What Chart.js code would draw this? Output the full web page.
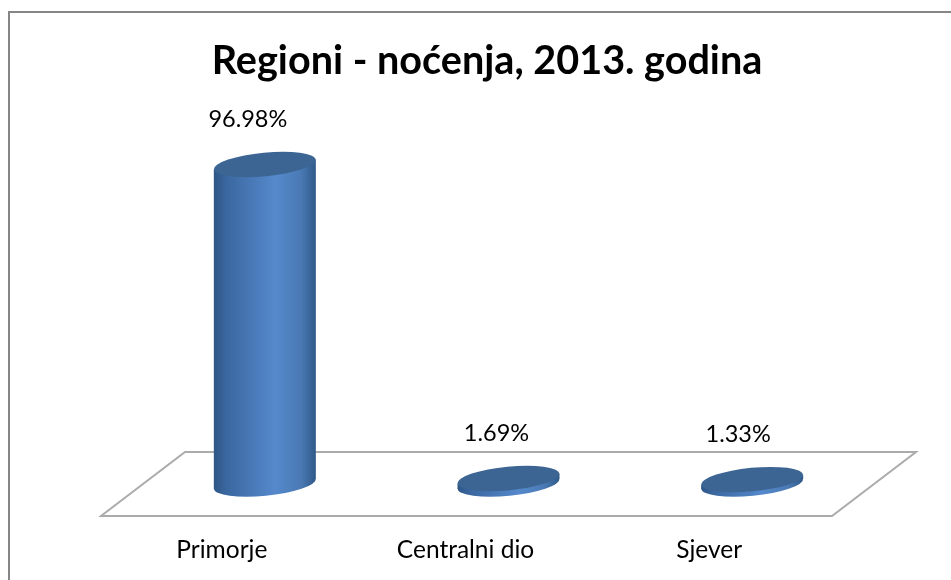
<!DOCTYPE html>
<html>
<head>
<meta charset="utf-8">
<style>
html,body{margin:0;padding:0;background:#fff;}
#wrap{position:relative;width:951px;height:580px;}
</style>
<script src="https://cdn.jsdelivr.net/npm/chart.js@4/dist/chart.umd.js"></script>
</head>
<body>
<div id="wrap"><canvas id="chart"></canvas></div>
<script>
const categories = ['Primorje', 'Centralni dio', 'Sjever'];
const nocenja = [96.98, 1.69, 1.33];
const valueLabels = ['96.98%', '1.69%', '1.33%'];
const chartTitle = 'Regioni - noćenja, 2013. godina';

const depthX = 42, depthY = 32;
const labelShift = [-17, -12, -14];

// 3d look: bars keep their library geometry, only the painting changes
Chart.BarElement.prototype.draw = function(ctx){
	const {x, y, base, width} = this.getProps(['x', 'y', 'base', 'width']);
	const a = width / 2, b = 11.8, tilt = -5.5 * Math.PI / 180;
	const dy = a * Math.sin(tilt);
	const grad = ctx.createLinearGradient(x - a, 0, x + a, 0);
	grad.addColorStop(0, '#2d5686');
	grad.addColorStop(0.12, '#3a679f');
	grad.addColorStop(0.6, '#5589cc');
	grad.addColorStop(0.85, '#4a7ab5');
	grad.addColorStop(1, '#2f5988');
	ctx.save();
	ctx.fillStyle = grad;
	ctx.beginPath();
	ctx.ellipse(x, base, a, b, tilt, 0, Math.PI * 2);
	ctx.fill();
	ctx.beginPath();
	ctx.moveTo(x - a, y - dy);
	ctx.lineTo(x + a, y + dy);
	ctx.lineTo(x + a, base + dy);
	ctx.lineTo(x - a, base - dy);
	ctx.closePath();
	ctx.fill();
	ctx.fillStyle = '#3c6594';
	ctx.beginPath();
	ctx.ellipse(x, y, a, b, tilt, 0, Math.PI * 2);
	ctx.fill();
	ctx.restore();
};

const floorAndFrame = {
	id: 'floorAndFrame',
	beforeDraw(chart){
		const ctx = chart.ctx, area = chart.chartArea;
		ctx.save();
		ctx.strokeStyle = '#868686';
		ctx.lineWidth = 2;
		ctx.beginPath();
		ctx.moveTo(9, 580);
		ctx.lineTo(9, 12);
		ctx.lineTo(951, 12);
		ctx.stroke();
		ctx.strokeStyle = '#ababab';
		ctx.lineWidth = 2;
		ctx.beginPath();
		ctx.moveTo(area.left - depthX, area.bottom + depthY);
		ctx.lineTo(area.left + depthX, area.bottom - depthY);
		ctx.lineTo(area.right + depthX, area.bottom - depthY);
		ctx.lineTo(area.right - depthX, area.bottom + depthY);
		ctx.closePath();
		ctx.stroke();
		ctx.restore();
	}
};

const valueText = {
	id: 'valueText',
	afterDatasetsDraw(chart){
		const ctx = chart.ctx;
		ctx.save();
		ctx.font = '23.5px Lato';
		ctx.fillStyle = '#000';
		ctx.textAlign = 'center';
		ctx.textBaseline = 'middle';
		chart.getDatasetMeta(0).data.forEach(function(bar, i){
			ctx.fillText(valueLabels[i], bar.x + labelShift[i], bar.y - 45);
		});
		ctx.restore();
	}
};

new Chart(document.querySelector('#chart'), {
	type: 'bar',
	data: {
		labels: categories,
		datasets: [{
			label: 'Noćenja',
			data: nocenja,
			backgroundColor: '#5589cc',
			barThickness: 102,
			clip: false
		}]
	},
	options: {
		responsive: true,
		maintainAspectRatio: false,
		animation: false,
		layout: {padding: {left: 100, right: 77, top: 0, bottom: 0}},
		plugins: {
			legend: {display: false},
			tooltip: {enabled: false},
			title: {
				display: true,
				text: chartTitle,
				color: '#000',
				font: {family: 'Lato', size: 39.6, weight: 'bold'},
				padding: {top: 37, bottom: 70}
			}
		},
		scales: {
			x: {
				grid: {display: false},
				border: {display: false},
				afterFit(scale){ scale.height = 96; },
				ticks: {
					color: '#000',
					font: {family: 'Lato', size: 24.5},
					padding: 43,
					labelOffset: -43,
					maxRotation: 0,
					autoSkip: false
				}
			},
			y: {
				min: 0,
				max: 100,
				grid: {display: false},
				border: {display: false},
				ticks: {display: false},
				afterFit(scale){ scale.width = 43; }
			}
		}
	},
	plugins: [floorAndFrame, valueText]
});
</script>
</body>
</html>
